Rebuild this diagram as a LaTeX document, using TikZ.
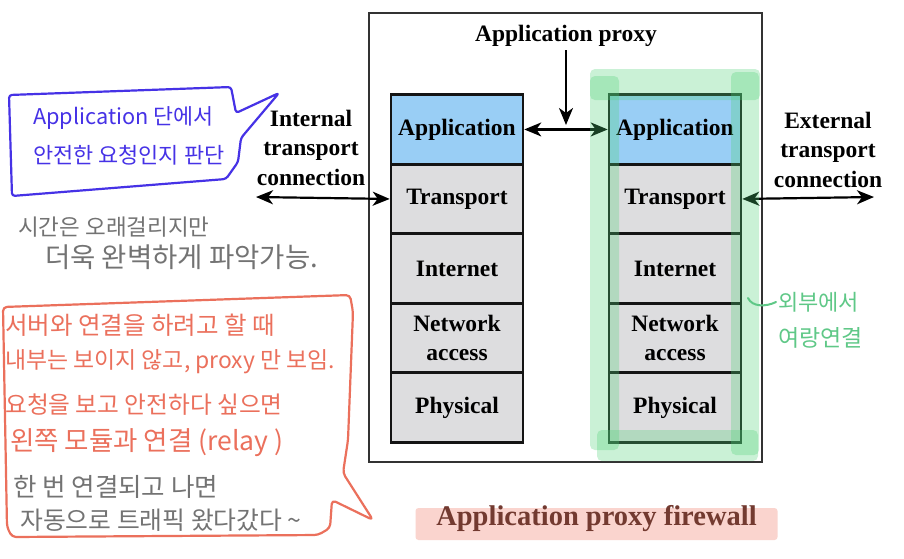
\documentclass[tikz,border=0pt]{standalone}
\usepackage{fontspec}
\setmainfont{Liberation Serif}
\newfontfamily\kr{Noto Sans CJK KR}
\usetikzlibrary{arrows.meta}
\definecolor{appblue}{RGB}{153,206,245}
\definecolor{laygray}{RGB}{221,221,223}
\definecolor{hlgreen}{RGB}{80,210,120}
\definecolor{penblue}{RGB}{70,50,230}
\definecolor{penred}{RGB}{235,112,92}
\definecolor{pengray}{RGB}{115,115,115}
\definecolor{pengreen}{RGB}{95,200,135}
\definecolor{capbg}{RGB}{250,212,206}
\definecolor{captxt}{RGB}{115,58,48}
\begin{document}
\begin{tikzpicture}[x=1pt,y=-1pt,
  layerbox/.style={draw=black!92, line width=2.6pt, fill=laygray, minimum width=132pt,
    minimum height=69.5pt, inner sep=0pt, font=\fontsize{23.5}{29}\selectfont\bfseries, align=center},
  appbox/.style={layerbox, fill=appblue},
  lbl/.style={font=\fontsize{23.5}{29.5}\selectfont\bfseries, align=center},
  tipstyle/.style={},
  conn/.style={line width=2.2pt, {Stealth[length=17pt,width=14pt,inset=5pt]}-{Stealth[length=17pt,width=14pt,inset=5pt]}},
  oneway/.style={line width=2.2pt, -{Stealth[length=17pt,width=14pt,inset=5pt]}},
  hl/.style={fill=hlgreen, fill opacity=0.3, rounded corners=5pt},
  hw/.style={anchor=west, inner sep=0pt, font=\kr\fontsize{#1}{#1}\selectfont},
  callout/.style={line width=2.2pt, line join=round}
]
\useasboundingbox (0,0) rectangle (904,558);
\fill[white] (0,0) rectangle (904,558);

% firewall frame
\node[draw=black!80, line width=1.3pt, minimum width=393pt, minimum height=449pt, inner sep=0pt] (fw) at (565.5,237.5) {};

% left stack
\node[appbox] (lapp) at (457,129.45) {Application};
\node[layerbox] (ltr) at (457,198.95) {Transport};
\node[layerbox] (lint) at (457,268.45) {Internet};
\node[layerbox] (lnet) at (457,337.95) {Network\\access};
\node[layerbox] (lphy) at (457,407.45) {Physical};

% right stack
\node[appbox] (rapp) at (675,129.45) {Application};
\node[layerbox] (rtr) at (675,198.95) {Transport};
\node[layerbox] (rint) at (675,268.45) {Internet};
\node[layerbox] (rnet) at (675,337.95) {Network\\access};
\node[layerbox] (rphy) at (675,407.45) {Physical};

% labels
\node[lbl] (proxy) at (566,36) {Application proxy};
\node[lbl] (intl) at (311,147.5) {Internal\\transport\\connection};
\node[lbl] (extl) at (828,149.5) {External\\transport\\connection};

% connectors
\coordinate (ptip) at (566,125);
\coordinate (iend) at (256,197);
\coordinate (eend) at (874,197);
\draw[oneway] (proxy.south) -- (ptip);
\draw[conn] (lapp.east) -- (rapp.west);
\draw[conn] (iend) -- (ltr.west);
\draw[conn] (rtr.east) -- (eend);

% green highlighter frame
\fill[hl] (590,69) rectangle (760,100);
\fill[hl] (590,76) rectangle (619,450);
\fill[hl] (731,72) rectangle (759,455);
\fill[hl] (597,430) rectangle (758,461);

% caption
\node[fill=capbg, rounded corners=3pt, minimum width=362pt, minimum height=32pt, inner sep=0pt] (capbox) at (596.5,524) {};
\node[font=\fontsize{28.5}{30}\selectfont\bfseries, text=captxt, anchor=base, inner sep=0pt] (cap) at (596.5,525) {Application proxy firewall};

% blue callout
\draw[callout, penblue, rounded corners=3pt] (9,95) -- (231,87) -- (236,113) -- (279,93) -- (241,138) -- (238,162) -- (226,179) -- (12,196) -- cycle;
\node[hw=21.7, text=penblue] (b1) at (33,118) {Application 단에서};
\node[hw=21.9, text=penblue] (b2) at (33,155) {안전한 요청인지 판단};

% gray notes
\node[hw=22.5, text=pengray] (g1) at (18,227) {시간은 오래걸리지만};
\node[hw=27.5, text=pengray] (g2) at (45,257) {더욱 완벽하게 파악가능.};

% red callout
\draw[callout, penred, rounded corners=4pt] (3,307) -- (350,295) -- (353,312) -- (348,440) -- (343,473) -- (373,520) -- (332,500) -- (330,528) -- (318,535) -- (12,537) -- (7,527) -- cycle;
\node[hw=24.5, text=penred] (r1) at (5,325) {서버와 연결을 하려고 할 때};
\node[hw=22.9, text=penred] (r2) at (5,362) {내부는 보이지 않고, proxy 만 보임.};
\node[hw=23.7, text=penred] (r3) at (5,405) {요청을 보고 안전하다 싶으면};
\node[hw=26.5, text=penred] (r4) at (10,443) {왼쪽 모듈과 연결 (relay )};
\node[hw=25.5, text=pengray] (g5) at (13,487) {한 번 연결되고 나면};
\node[hw=24.8, text=pengray] (g6) at (20,520) {자동으로 트래픽 왔다갔다 \textasciitilde};

% green note
\draw[pengreen, line width=2pt, line cap=round] (748,298) .. controls (752,307) and (766,307) .. (776,302);
\node[hw=22, text=pengreen] (n1) at (778,302) {외부에서};
\node[hw=23, text=pengreen] (n2) at (778,338) {여랑연결};
\end{tikzpicture}
\end{document}
